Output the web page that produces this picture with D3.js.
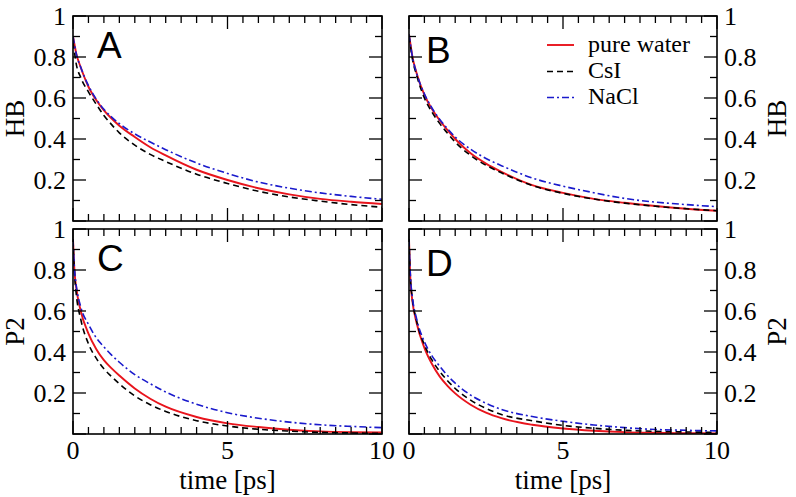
<!DOCTYPE html>
<html>
<head>
<meta charset="utf-8">
<script src="https://cdn.jsdelivr.net/npm/d3@7/dist/d3.min.js"></script>
<style>
  html, body { margin: 0; padding: 0; background: #fff; }
  svg { display: block; }
</style>
</head>
<body>
<svg id="chart" width="796" height="497"></svg>
<script>
// ---------- data ----------
const times = [0, 0.05, 0.1, 0.25, 0.5, 0.75, 1, 1.25, 1.5, 2, 2.5, 3, 4, 5, 6, 7, 8, 9, 10];
const seriesNames = ["pure water", "CsI", "NaCl"];
const panelLabels = ["A", "B", "C", "D"];
const yTitles = ["HB", "HB", "P2", "P2"];
const xTickLabels = ["0", "5", "10"];
const yTickLabels = ["0.2", "0.4", "0.6", "0.8", "1"];

const A_pure = [0.90, 0.86, 0.82, 0.75, 0.655, 0.59, 0.54, 0.50, 0.465, 0.41, 0.36, 0.32, 0.25, 0.20, 0.16, 0.13, 0.108, 0.094, 0.083];
const A_CsI  = [0.87, 0.82, 0.77, 0.70, 0.63, 0.57, 0.515, 0.47, 0.43, 0.37, 0.325, 0.29, 0.228, 0.183, 0.145, 0.117, 0.097, 0.08, 0.067];
const A_NaCl = [0.90, 0.86, 0.82, 0.75, 0.66, 0.595, 0.545, 0.507, 0.475, 0.425, 0.385, 0.348, 0.283, 0.232, 0.19, 0.16, 0.137, 0.12, 0.106];

const B_pure = [0.91, 0.86, 0.81, 0.72, 0.615, 0.545, 0.49, 0.443, 0.40, 0.33, 0.28, 0.24, 0.175, 0.137, 0.108, 0.089, 0.073, 0.06, 0.05];
const B_CsI  = [0.90, 0.85, 0.80, 0.71, 0.60, 0.53, 0.475, 0.428, 0.385, 0.32, 0.272, 0.235, 0.173, 0.135, 0.107, 0.087, 0.072, 0.06, 0.05];
const B_NaCl = [0.91, 0.86, 0.81, 0.72, 0.62, 0.55, 0.495, 0.45, 0.41, 0.35, 0.305, 0.27, 0.21, 0.17, 0.138, 0.11, 0.092, 0.08, 0.07];

const C_pure = [0.95, 0.79, 0.72, 0.60, 0.49, 0.415, 0.36, 0.32, 0.285, 0.222, 0.172, 0.133, 0.083, 0.052, 0.034, 0.021, 0.013, 0.009, 0.007];
const C_CsI  = [0.95, 0.78, 0.69, 0.56, 0.44, 0.37, 0.318, 0.28, 0.245, 0.186, 0.143, 0.11, 0.065, 0.039, 0.023, 0.014, 0.008, 0.005, 0.003];
const C_NaCl = [0.95, 0.80, 0.73, 0.62, 0.535, 0.47, 0.425, 0.385, 0.35, 0.29, 0.245, 0.205, 0.145, 0.104, 0.077, 0.058, 0.045, 0.037, 0.031];

const D_pure = [0.95, 0.74, 0.66, 0.54, 0.42, 0.34, 0.28, 0.235, 0.198, 0.143, 0.104, 0.077, 0.045, 0.027, 0.016, 0.009, 0.006, 0.004, 0.003];
const D_CsI  = [0.95, 0.75, 0.67, 0.55, 0.435, 0.36, 0.305, 0.26, 0.222, 0.165, 0.125, 0.095, 0.065, 0.042, 0.028, 0.018, 0.013, 0.01, 0.008];
const D_NaCl = [0.95, 0.76, 0.68, 0.56, 0.45, 0.38, 0.33, 0.285, 0.248, 0.19, 0.15, 0.12, 0.085, 0.062, 0.044, 0.031, 0.022, 0.018, 0.015];

const panelData = [
  [A_pure, A_CsI, A_NaCl],
  [B_pure, B_CsI, B_NaCl],
  [C_pure, C_CsI, C_NaCl],
  [D_pure, D_CsI, D_NaCl]
];

// ---------- styles ----------
const seriesStyle = [
  { color: "#e8141c", dash: null, width: 1.9 },
  { color: "#000000", dash: "6,4", width: 1.6 },
  { color: "#1a1acc", dash: "7,3,2,3", width: 1.6 }
];
const serif = "'Liberation Serif', 'Times New Roman', serif";
const sans = "'Liberation Sans', Arial, sans-serif";

const svg = d3.select("#chart");

const cols = [[73, 382], [409, 717]];
const rows = [[16, 221], [229, 434]];

panelData.forEach((series, i) => {
  const col = i % 2, row = Math.floor(i / 2);
  const [x0, x1] = cols[col];
  const [y0, y1] = rows[row];
  const x = d3.scaleLinear().domain([0, 10]).range([x0, x1]);
  const y = d3.scaleLinear().domain([0, 1]).range([y1, y0]);
  const g = svg.append("g");

  const clipId = "clip" + i;
  svg.append("clipPath").attr("id", clipId)
    .append("rect").attr("x", x0).attr("y", y0).attr("width", x1 - x0).attr("height", y1 - y0);

  // curves
  const line = d3.line()
    .x((d, k) => x(times[k]))
    .y(d => y(d))
    .curve(d3.curveMonotoneX);
  series.forEach((vals, s) => {
    const st = seriesStyle[s];
    g.append("path")
      .attr("d", line(vals))
      .attr("clip-path", `url(#${clipId})`)
      .attr("fill", "none")
      .attr("stroke", st.color)
      .attr("stroke-width", st.width)
      .attr("stroke-dasharray", st.dash);
  });

  // ticks (inward, all four sides)
  const xMinor = d3.range(0, 10.001, 0.5);
  const yMinor = d3.range(0, 1.0001, 0.1);
  const isMajorX = v => Math.abs(v % 5) < 1e-6 || Math.abs(v % 5 - 5) < 1e-6;
  const isMajorY = v => Math.abs(Math.round(v * 10) % 2) === 0;
  xMinor.forEach(v => {
    const len = isMajorX(v) ? 13 : 7;
    g.append("line").attr("x1", x(v)).attr("x2", x(v)).attr("y1", y1).attr("y2", y1 - len)
      .attr("stroke", "#000").attr("stroke-width", 1.3);
    g.append("line").attr("x1", x(v)).attr("x2", x(v)).attr("y1", y0).attr("y2", y0 + len)
      .attr("stroke", "#000").attr("stroke-width", 1.3);
  });
  yMinor.forEach(v => {
    const len = isMajorY(v) ? 13 : 7;
    g.append("line").attr("y1", y(v)).attr("y2", y(v)).attr("x1", x0).attr("x2", x0 + len)
      .attr("stroke", "#000").attr("stroke-width", 1.3);
    g.append("line").attr("y1", y(v)).attr("y2", y(v)).attr("x1", x1).attr("x2", x1 - len)
      .attr("stroke", "#000").attr("stroke-width", 1.3);
  });

  // frame
  g.append("rect").attr("x", x0).attr("y", y0).attr("width", x1 - x0).attr("height", y1 - y0)
    .attr("fill", "none").attr("stroke", "#000").attr("stroke-width", 1.6);

  // y tick labels
  yTickLabels.forEach(t => {
    const v = +t;
    g.append("text")
      .attr("x", col === 0 ? x0 - 7 : x1 + 7)
      .attr("y", y(v))
      .attr("dy", "0.35em")
      .attr("text-anchor", col === 0 ? "end" : "start")
      .attr("font-family", serif).attr("font-size", 26)
      .text(t);
  });

  // y title
  const yc = (y0 + y1) / 2;
  const tx = col === 0 ? 15 : 777;
  g.append("text")
    .attr("transform", `translate(${tx},${yc}) rotate(-90)`)
    .attr("text-anchor", "middle").attr("dy", "0.35em")
    .attr("font-family", serif).attr("font-size", 27)
    .text(yTitles[i]);

  // x tick labels + title on bottom row
  if (row === 1) {
    xTickLabels.forEach(t => {
      g.append("text")
        .attr("x", x(+t)).attr("y", y1 + 25)
        .attr("text-anchor", "middle")
        .attr("font-family", serif).attr("font-size", 26)
        .text(t);
    });
    g.append("text")
      .attr("x", (x0 + x1) / 2).attr("y", y1 + 55)
      .attr("text-anchor", "middle")
      .attr("font-family", serif).attr("font-size", 27)
      .text("time [ps]");
  }

  // panel letter
  g.append("text")
    .attr("x", col === 0 ? x0 + 24 : x0 + 17)
    .attr("y", col === 0 ? y0 + 42 : y0 + 47)
    .attr("font-family", sans).attr("font-size", 37)
    .text(panelLabels[i]);

  // legend in panel B
  if (i === 1) {
    const ly = [45, 71.5, 97.5];
    seriesNames.forEach((n, s) => {
      const st = seriesStyle[s];
      g.append("line").attr("x1", 547).attr("x2", 574).attr("y1", ly[s]).attr("y2", ly[s])
        .attr("stroke", st.color).attr("stroke-width", st.width)
        .attr("stroke-dasharray", st.dash);
      g.append("text").attr("x", 588).attr("y", ly[s] + 6.5)
        .attr("font-family", serif).attr("font-size", 24)
        .text(n);
    });
  }
});
</script>
</body>
</html>
